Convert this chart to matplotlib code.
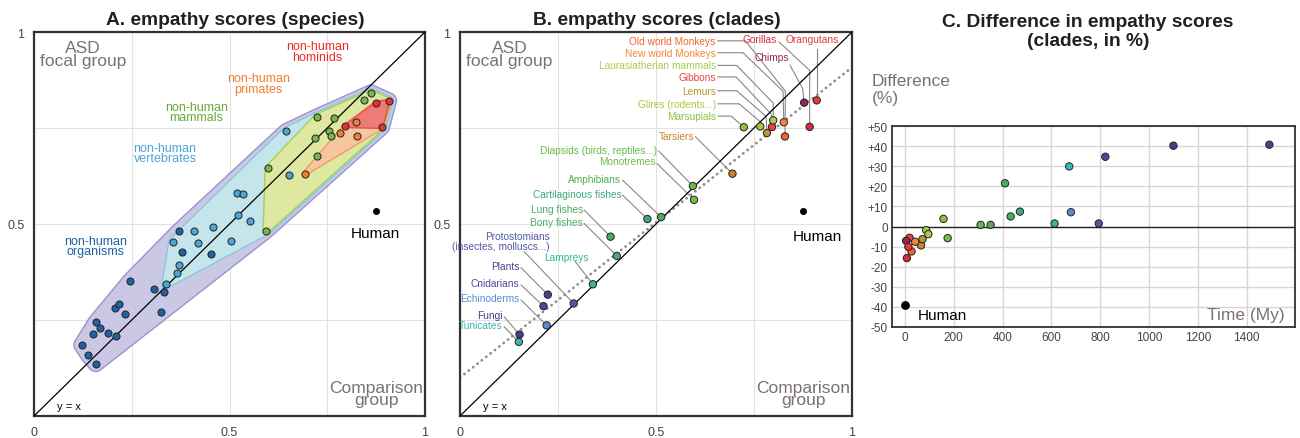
import numpy as np
import matplotlib.pyplot as plt

plt.rcParams['font.family'] = ['Liberation Sans', 'DejaVu Sans']

# ---------------- panel A : species (x = comparison group, y = ASD focal group)
organisms_x = [0.371, 0.378, 0.453, 0.246, 0.307, 0.332, 0.326, 0.206, 0.217, 0.232,
               0.158, 0.169, 0.150, 0.190, 0.209, 0.122, 0.139, 0.158]
organisms_y = [0.482, 0.426, 0.423, 0.352, 0.331, 0.323, 0.272, 0.282, 0.292, 0.265,
               0.244, 0.228, 0.213, 0.216, 0.208, 0.185, 0.159, 0.136]
vertebrates_x = [0.645, 0.652, 0.520, 0.534, 0.522, 0.552, 0.457, 0.410, 0.356, 0.419,
                 0.503, 0.371, 0.367, 0.338]
vertebrates_y = [0.741, 0.628, 0.581, 0.578, 0.524, 0.507, 0.491, 0.482, 0.454, 0.450,
                 0.455, 0.393, 0.372, 0.344]
mammals_x = [0.862, 0.843, 0.723, 0.768, 0.754, 0.760, 0.719, 0.725, 0.598, 0.593]
mammals_y = [0.842, 0.823, 0.779, 0.775, 0.742, 0.729, 0.723, 0.676, 0.645, 0.482]
primates_x = [0.824, 0.782, 0.827, 0.692]
primates_y = [0.765, 0.736, 0.728, 0.631]
hominids_x = [0.875, 0.907, 0.795, 0.889]
hominids_y = [0.815, 0.821, 0.754, 0.752]
human_x, human_y = 0.874, 0.533

# ---------------- panel B / C : clades
clades = ['Tunicates', 'Fungi', 'Echinoderms', 'Cnidarians', 'Plants', 'Protostomians',
          'Lampreys', 'Bony fishes', 'Lung fishes', 'Cartilaginous fishes', 'Amphibians',
          'Monotremes', 'Diapsids', 'Tarsiers', 'Marsupials', 'Glires', 'Lemurs', 'Gibbons',
          'Laurasiatherian', 'New world Monkeys', 'Old world Monkeys', 'Gorillas',
          'Chimps', 'Orangutans']
clade_x = [0.150, 0.152, 0.221, 0.213, 0.224, 0.290, 0.339, 0.400, 0.384, 0.478, 0.513,
           0.597, 0.594, 0.695, 0.724, 0.766, 0.783, 0.796, 0.799, 0.826, 0.829, 0.892,
           0.878, 0.910]
clade_y = [0.193, 0.212, 0.236, 0.286, 0.316, 0.293, 0.343, 0.417, 0.467, 0.513, 0.518,
           0.563, 0.599, 0.631, 0.752, 0.754, 0.737, 0.753, 0.770, 0.765, 0.728, 0.753,
           0.816, 0.822]
clade_time = [673, 1100, 680, 821, 1493, 794, 613, 433, 410, 471, 351, 175, 310, 66, 158,
              87, 72, 19, 96, 42, 27, 8, 5, 14]
clade_diff = [29.9, 40.2, 7.1, 34.7, 40.7, 1.5, 1.5, 5.0, 21.5, 7.4, 0.8, -5.8, 0.8, -9.4,
              3.8, -1.8, -6.3, -5.6, -3.8, -7.6, -12.4, -15.7, -7.1, -10.1]
clade_colors = ['#3fb4b2', '#4a3a8c', '#5b8ccf', '#4b4a9a', '#4f3d8f', '#5258a6',
                '#3ab49e', '#45b06c', '#47ae5d', '#3aa97f', '#4db050', '#70bf4a',
                '#66ba4a', '#c8842b', '#8dc043', '#a6c944', '#b8982d', '#ea4244',
                '#a9cd4b', '#f58634', '#f0652e', '#d92a40', '#9b2450', '#e53939']
human_diff, human_time = -39.3, 0

# label layout for panel B: text position, text and leader path (ends at the point)
labels_b = {
    'Tunicates': (0.108, 0.237, 'Tunicates', [(0.113, 0.232)]),
    'Fungi': (0.108, 0.263, 'Fungi', [(0.113, 0.258)]),
    'Echinoderms': (0.151, 0.306, 'Echinoderms', [(0.156, 0.302)]),
    'Cnidarians': (0.151, 0.347, 'Cnidarians', [(0.156, 0.341)]),
    'Plants': (0.151, 0.390, 'Plants', [(0.156, 0.386)]),
    'Protostomians': (0.228, 0.456, 'Protostomians\n(insectes, molluscs...)', [(0.164, 0.428)]),
    'Lampreys': (0.327, 0.414, 'Lampreys', [(0.294, 0.402)]),
    'Bony fishes': (0.314, 0.505, 'Bony fishes', [(0.317, 0.501)]),
    'Lung fishes': (0.314, 0.539, 'Lung fishes', [(0.317, 0.536)]),
    'Cartilaginous fishes': (0.412, 0.578, 'Cartilaginous fishes', [(0.415, 0.575)]),
    'Amphibians': (0.411, 0.617, 'Amphibians', [(0.415, 0.614)]),
    'Monotremes': (0.499, 0.663, 'Monotremes', [(0.503, 0.657)]),
    'Diapsids': (0.503, 0.692, 'Diapsids (birds, reptiles...)', [(0.507, 0.690)]),
    'Tarsiers': (0.597, 0.729, 'Tarsiers', [(0.601, 0.727)]),
    'Marsupials': (0.654, 0.781, 'Marsupials', [(0.658, 0.781), (0.692, 0.781)]),
    'Glires': (0.654, 0.813, 'Glires (rodents...)', [(0.658, 0.813), (0.712, 0.813), (0.764, 0.768)]),
    'Lemurs': (0.652, 0.847, 'Lemurs', [(0.658, 0.847), (0.706, 0.847), (0.781, 0.780)]),
    'Gibbons': (0.654, 0.883, 'Gibbons', [(0.658, 0.883), (0.704, 0.883), (0.794, 0.786)]),
    'Laurasiatherian': (0.654, 0.913, 'Laurasiatherian mammals', [(0.658, 0.913), (0.706, 0.913), (0.799, 0.815)]),
    'New world Monkeys': (0.654, 0.946, 'New world Monkeys', [(0.658, 0.946), (0.722, 0.946), (0.824, 0.846)]),
    'Old world Monkeys': (0.652, 0.977, 'Old world Monkeys', [(0.658, 0.977), (0.728, 0.977), (0.830, 0.846)]),
    'Gorillas': (0.808, 0.981, 'Gorillas', [(0.814, 0.974), (0.892, 0.900)]),
    'Chimps': (0.840, 0.935, 'Chimps', [(0.842, 0.913), (0.874, 0.853)]),
    'Orangutans': (0.966, 0.981, 'Orangutans', [(0.910, 0.957)]),
}

GRAY_TXT = '#7a7272'
LEADER = '#8c8585'


def convex_hull(pts):
    pts = sorted(set(map(tuple, np.round(pts, 6))))

    def cross(o, a, b):
        return (a[0] - o[0]) * (b[1] - o[1]) - (a[1] - o[1]) * (b[0] - o[0])

    lower, upper = [], []
    for p in pts:
        while len(lower) >= 2 and cross(lower[-2], lower[-1], p) <= 0:
            lower.pop()
        lower.append(p)
    for p in reversed(pts):
        while len(upper) >= 2 and cross(upper[-2], upper[-1], p) <= 0:
            upper.pop()
        upper.append(p)
    return np.array(lower[:-1] + upper[:-1])


def padded_hull(x, y, r):
    t = np.linspace(0, 2 * np.pi, 40, endpoint=False)
    px = (np.asarray(x)[:, None] + r * np.cos(t)).ravel()
    py = (np.asarray(y)[:, None] + r * np.sin(t)).ravel()
    return convex_hull(np.column_stack([px, py]))


def square_panel(ax):
    ax.set_xlim(0, 1)
    ax.set_ylim(0, 1)
    ax.set_xticks([0, 0.25, 0.5, 0.75, 1])
    ax.set_xticklabels(['0', '', '0.5', '', '1'])
    ax.set_yticks([0, 0.25, 0.5, 0.75, 1])
    ax.set_yticklabels(['', '', '0.5', '', '1'])
    ax.tick_params(length=0, labelsize=9, labelcolor='#444444', pad=7)
    ax.grid(color='#e2e2e2', lw=0.8)
    ax.set_axisbelow(True)
    for s in ax.spines.values():
        s.set_color('#333333')
        s.set_linewidth(1.6)
    ax.plot([0, 1], [0, 1], color='black', lw=0.9, zorder=3)
    ax.text(0.09, 0.026, 'y = x', fontsize=8, ha='center', va='center')


fig = plt.figure(figsize=(13, 4.39), dpi=100)
axA = fig.add_axes([34 / 1300, 22 / 439, 391 / 1300, 384 / 439])
axB = fig.add_axes([460 / 1300, 22 / 439, 392 / 1300, 384 / 439])
axC = fig.add_axes([892 / 1300, 111 / 439, 403 / 1300, 201 / 439])

# ---------------- A
square_panel(axA)
groups = [(organisms_x, organisms_y), (vertebrates_x, vertebrates_y), (mammals_x, mammals_y),
          (primates_x, primates_y), (hominids_x, hominids_y)]
hull_style = [('#cbc8e6', '#9893cc', 0.02), ('#c5e5ec', '#88c8d8', 0.011),
              ('#dfe8a0', '#a8cc60', 0.007), ('#f6c6a0', '#f29a68', 0.005),
              ('#ee7b78', '#e85050', 0.003)]
cum_x, cum_y = [], []
members = []
for gx, gy in groups[::-1]:
    cum_x = cum_x + list(gx)
    cum_y = cum_y + list(gy)
    members.append((cum_x, cum_y))
members = members[::-1]
for i, ((mx, my), (fc, ec, pad)) in enumerate(zip(members, hull_style)):
    h = padded_hull(mx, my, pad)
    axA.fill(h[:, 0], h[:, 1], facecolor=fc, edgecolor=ec, lw=1.0, zorder=1 + i * 0.1)

point_colors = ['#1f62a3', '#4ea5d8', '#7ab648', '#f07f2f', '#e8322f']
for (gx, gy), c in zip(groups, point_colors):
    axA.scatter(gx, gy, s=26, color=c, edgecolor='#222222', lw=0.7, zorder=4)
axA.scatter([human_x], [human_y], s=16, color='black', zorder=4)
axA.text(human_x, 0.477, 'Human', fontsize=11, ha='center', va='center')

group_labels = [(0.725, 0.950, 'non-human\nhominids', '#ee2b25'),
                (0.574, 0.866, 'non-human\nprimates', '#f07f2f'),
                (0.416, 0.792, 'non-human\nmammals', '#6aa83a'),
                (0.335, 0.685, 'non-human\nvertebrates', '#4ea5d8'),
                (0.158, 0.443, 'non-human\norganisms', '#1f62a3')]
for x, y, t, c in group_labels:
    axA.text(x, y, t, color=c, fontsize=9, ha='center', va='center', linespacing=0.85)

for ax in (axA, axB):
    ax.text(0.126, 0.943, 'ASD\nfocal group', color=GRAY_TXT, fontsize=12.5, ha='center',
            va='center', linespacing=0.8)
    ax.text(0.876, 0.059, 'Comparison\ngroup', color=GRAY_TXT, fontsize=12.5, ha='center',
            va='center', linespacing=0.8)

# ---------------- B
square_panel(axB)
xs = np.linspace(0, 1, 2)
axB.plot(xs, 0.10 + 0.808 * xs, color='#9a8c8c', lw=2.0, ls=(0, (0.1, 1.9)),
         dash_capstyle='round', zorder=2)
for name, px, py, c in zip(clades, clade_x, clade_y, clade_colors):
    tx, ty, txt, path = labels_b[name]
    ax_path = path + [(px, py)]
    axB.plot([p[0] for p in ax_path], [p[1] for p in ax_path], color=LEADER, lw=0.8, zorder=2)
    axB.text(tx, ty, txt, color=c, fontsize=7.3, ha='right', va='center', linespacing=1.0)
axB.scatter(clade_x, clade_y, s=28, c=clade_colors, edgecolor='#222222', lw=0.7, zorder=4)
axB.scatter([human_x], [human_y], s=16, color='black', zorder=4)
axB.text(0.912, 0.469, 'Human', fontsize=11, ha='center', va='center')

# ---------------- C
axC.set_xlim(-53, 1598)
axC.set_ylim(-50, 50)
axC.set_xticks(range(0, 1401, 200))
axC.set_yticks(range(-50, 51, 10))
axC.set_yticklabels([('+%d' % v if v > 0 else '%d' % v) for v in range(-50, 51, 10)])
axC.tick_params(length=0, labelsize=8.5, labelcolor='#444444', pad=3)
axC.grid(color='#dcd4d4', lw=1.0)
axC.set_axisbelow(True)
for s in axC.spines.values():
    s.set_color('#333333')
    s.set_linewidth(1.3)
axC.axhline(0, color='#222222', lw=1.0, zorder=2)
axC.scatter(clade_time, clade_diff, s=28, c=clade_colors, edgecolor='#222222', lw=0.7, zorder=4)
axC.scatter([human_time], [human_diff], s=28, color='black', zorder=4)
axC.text(53, -44, 'Human', fontsize=11, ha='left', va='center')
axC.text(0.975, 0.06, 'Time (My)', transform=axC.transAxes, fontsize=12.5, color=GRAY_TXT,
         ha='right', va='center')
axC.text(-0.05, 1.265, 'Difference\n(%)', transform=axC.transAxes, fontsize=12.5,
         color=GRAY_TXT, ha='left', va='top', linespacing=1.2)

# ---------------- titles
fig.text(0.181, 0.954, 'A. empathy scores (species)', fontsize=13.8, fontweight='bold',
         ha='center', va='center', color='#231f20')
fig.text(0.505, 0.954, 'B. empathy scores (clades)', fontsize=13.8, fontweight='bold',
         ha='center', va='center', color='#231f20')
fig.text(0.837, 0.927, 'C. Difference in empathy scores\n(clades, in %)', fontsize=13.8,
         fontweight='bold', ha='center', va='center', color='#231f20', linespacing=1.15)

fig.savefig('out.png', dpi=100)
